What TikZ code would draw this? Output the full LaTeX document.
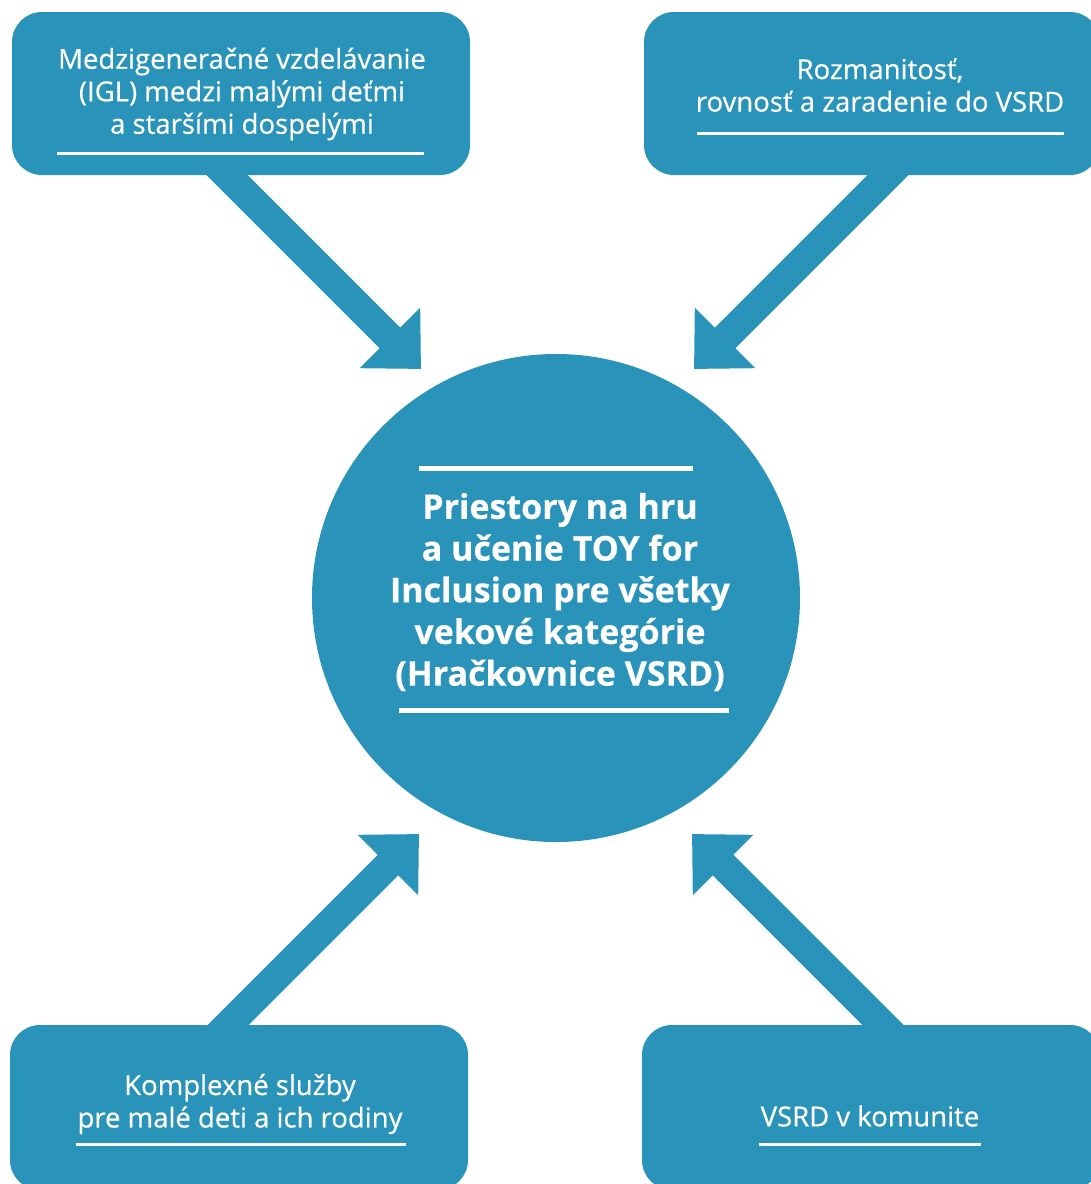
\documentclass[tikz,border=0pt]{standalone}
\usepackage{fontspec}
\setmainfont{Open Sans}
\usetikzlibrary{arrows.meta}
\definecolor{vsrdblue}{RGB}{42,147,186}
\def\boxfont{\fontsize{27.5}{32.5}\selectfont\addfontfeature{FakeBold=0.5}}
\def\hubfont{\fontsize{34}{41.7}\selectfont\bfseries\addfontfeature{FakeBold=0.4}}

\begin{document}
\begin{tikzpicture}[x=1pt,y=-1pt]
    \tikzstyle{topic}=[rectangle,rounded corners=30pt,fill=vsrdblue,inner sep=0pt]
    \tikzstyle{hub}=[circle,fill=vsrdblue,minimum size=488pt,inner sep=0pt]
    \tikzstyle{label}=[text=white,align=center,inner sep=0pt]
    \tikzstyle{uline}=[draw=white,line width=3pt]
    \tikzstyle{big arrow}=[draw=vsrdblue,line width=29pt,-{Triangle[length=44pt,width=83pt]}]

    \useasboundingbox (0,0) rectangle (1091,1184);
    \clip (0,0) rectangle (1091,1184);

    % Draw the four topic boxes
    \node[topic,minimum width=458pt,minimum height=163pt] (TL) at (241,93.5) {};
    \node[topic,minimum width=456pt,minimum height=163pt] (TR) at (872,93.5) {};
    \node[topic,minimum width=458pt,minimum height=165pt] (BL) at (239,1107.5) {};
    \node[topic,minimum width=458pt,minimum height=165pt] (BR) at (871,1107.5) {};

    % Draw the central circle
    \node[hub] (C) at (556,598) {};

    % Arrow ends
    \coordinate (TL-tail) at (202,150);
    \coordinate (TL-tip) at (421,369);
    \coordinate (TR-tail) at (913,150);
    \coordinate (TR-tip) at (694,369);
    \coordinate (BL-tail) at (203,1050);
    \coordinate (BL-tip) at (419,834);
    \coordinate (BR-tail) at (908,1050);
    \coordinate (BR-tip) at (692,834);

    % Connect every box with the circle
    \foreach \name in {TL,TR,BL,BR}
        \draw[big arrow] (\name-tail) -- (\name-tip);

    % Texts of the boxes
    \node[label,font=\boxfont] (TL-text) at (242,94) {Medzigeneračné vzdelávanie\\(IGL) medzi malými deťmi\\a staršími dospelými};
    \node[label,font=\boxfont] (TR-text) at (880,85) {Rozmanitosť,\\rovnosť a zaradenie do VSRD};
    \node[label,font=\boxfont] (BL-text) at (240,1104) {Komplexné služby\\pre malé deti a ich rodiny};
    \node[label,font=\boxfont] (BR-text) at (870,1116) {VSRD v komunite};
    \node[label,font=\hubfont] (C-text) at (560,592) {Priestory na hru\\a učenie TOY for\\Inclusion pre všetky\\vekové kategórie\\(Hračkovnice VSRD)};

    % Underlines
    \draw[uline] (57,153) -- (424,153);
    \draw[uline] (697,133) -- (1064,133);
    \draw[uline] (76,1144) -- (406,1144);
    \draw[uline] (759,1144) -- (981,1144);
    \draw[uline,line width=5pt] (419,468) -- (693,468);
    \draw[uline,line width=5pt] (399,710) -- (729,710);
\end{tikzpicture}
\end{document}
